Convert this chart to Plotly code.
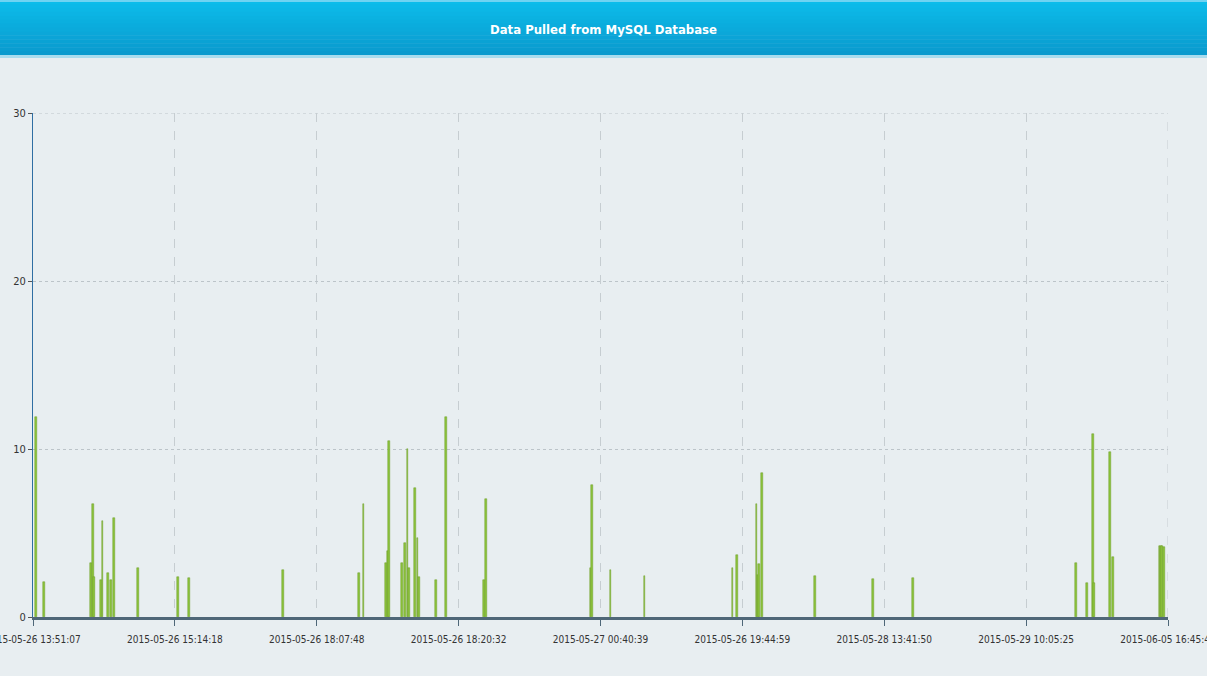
import plotly.graph_objects as go

# ---- data ----
tick_pos = [0, 100, 200, 300, 400, 500, 600, 700, 800]
tick_labels = [
    "2015-05-26 13:51:07", "2015-05-26 15:14:18", "2015-05-26 18:07:48",
    "2015-05-26 18:20:32", "2015-05-27 00:40:39", "2015-05-26 19:44:59",
    "2015-05-28 13:41:50", "2015-05-29 10:05:25", "2015-06-05 16:45:41",
]
spike_idx = [2, 8, 41, 42, 43, 48, 49, 53, 55, 57, 74, 102, 110, 176,
             230, 233, 249, 250, 251, 260, 262, 264, 265, 269, 271, 272, 284, 291,
             318, 319, 393, 394, 407, 431, 493, 496, 510, 511, 512, 514, 551, 592,
             620, 735, 743, 747, 748, 759, 761, 794, 795, 796, 797]
spike_val = [11.9, 2.1, 3.2, 6.7, 2.4, 2.2, 5.7, 2.6, 2.2, 5.9, 2.9, 2.4, 2.35, 2.8,
             2.6, 6.7, 3.2, 3.9, 10.5, 3.2, 4.4, 10.0, 2.9, 7.65, 4.7, 2.4, 2.2, 11.9,
             2.2, 7.0, 2.9, 7.85, 2.8, 2.45, 2.9, 3.7, 6.7, 2.5, 3.15, 8.6, 2.45, 2.26,
             2.35, 3.2, 2.05, 10.9, 2.05, 9.85, 3.6, 4.2, 4.2, 4.2, 4.15]
y_ticks = [0, 10, 20, 30]
title_text = "Data Pulled from MySQL Database"

FONT = "DejaVu Sans Condensed, Liberation Sans Narrow, Liberation Sans, sans-serif"
W, H = 1207, 676
ML, MR, MT, MB = 33, 39, 113, 59
PW, PH = W - ML - MR, H - MT - MB
X_MAX, Y_MAX = tick_pos[-1], y_ticks[-1]


def px_x(p):
    return (p - ML) / PW


def px_y(p):
    return (H - MB - p) / PH


fig = go.Figure(
    go.Bar(
        x=spike_idx, y=spike_val, width=1.3,
        marker=dict(color="#8cc43a", line=dict(color="#6f9c2c", width=0.5)),
        hoverinfo="x+y",
    )
)

# title bar gradient built from strips
top_c = (0x0c, 0xbc, 0xea)
bot_c = (0x0a, 0x9a, 0xce)
n = 14
bar_h = 55
shapes = []
for i in range(n):
    t = i / (n - 1)
    c = tuple(int(round(top_c[k] + (bot_c[k] - top_c[k]) * t)) for k in range(3))
    y0 = bar_h * i / n
    y1 = bar_h * (i + 1) / n + 0.5
    shapes.append(dict(type="rect", xref="paper", yref="paper",
                       x0=px_x(0), x1=px_x(W), y0=px_y(y1), y1=px_y(y0),
                       fillcolor="rgb(%d,%d,%d)" % c, line=dict(width=0), layer="below"))
shapes.append(dict(type="rect", xref="paper", yref="paper",
                   x0=px_x(0), x1=px_x(W), y0=px_y(2), y1=px_y(0),
                   fillcolor="#6fd3f2", line=dict(width=0), layer="below"))
shapes.append(dict(type="rect", xref="paper", yref="paper",
                   x0=px_x(0), x1=px_x(W), y0=px_y(58), y1=px_y(55),
                   fillcolor="#a9dcee", line=dict(width=0), layer="below"))
# grid lines on the plot edges (right / top)
shapes.append(dict(type="line", xref="x", yref="y", x0=X_MAX, x1=X_MAX, y0=0, y1=Y_MAX,
                   line=dict(color="#c6cdd1", width=1, dash="dash"), layer="below"))
shapes.append(dict(type="line", xref="x", yref="y", x0=0, x1=X_MAX, y0=Y_MAX, y1=Y_MAX,
                   line=dict(color="#bcc4c9", width=1, dash="dot"), layer="below"))

fig.update_layout(
    width=W, height=H,
    margin=dict(l=ML, r=MR, t=MT, b=MB, pad=0, autoexpand=False),
    paper_bgcolor="#e8eef1", plot_bgcolor="#e8eef1",
    showlegend=False, bargap=0,
    shapes=shapes,
    font=dict(family=FONT, color="#333333", size=11),
    annotations=[dict(text="<b>" + title_text + "</b>", xref="paper", yref="paper",
                      x=px_x(603), y=px_y(30), showarrow=False,
                      font=dict(family=FONT, size=13, color="white"),
                      xanchor="center", yanchor="middle")],
    xaxis=dict(range=[0, X_MAX], tickmode="array", tickvals=tick_pos, ticktext=tick_labels,
               showgrid=True, gridcolor="#c6cdd1", griddash="dash", gridwidth=1,
               showline=True, linecolor="#4f6778", linewidth=3,
               ticks="outside", ticklen=6, tickcolor="#4f6778", tickwidth=1,
               zeroline=False, tickangle=0, ticklabeloverflow="allow", automargin=False,
               ticklabelstandoff=5,
               tickfont=dict(family=FONT, size=10, color="#333333")),
    yaxis=dict(range=[0, Y_MAX], tickmode="array", tickvals=y_ticks,
               showgrid=True, gridcolor="#bcc4c9", griddash="dot", gridwidth=1,
               showline=True, linecolor="#2f6ea3", linewidth=1,
               ticks="outside", ticklen=4, tickcolor="#555555",
               zeroline=False, automargin=False,
               tickfont=dict(family=FONT, size=11, color="#333333")),
)

fig.write_html("out.html", config={"displayModeBar": False},
               post_script="document.body.style.margin='0';document.body.style.overflow='hidden';")
